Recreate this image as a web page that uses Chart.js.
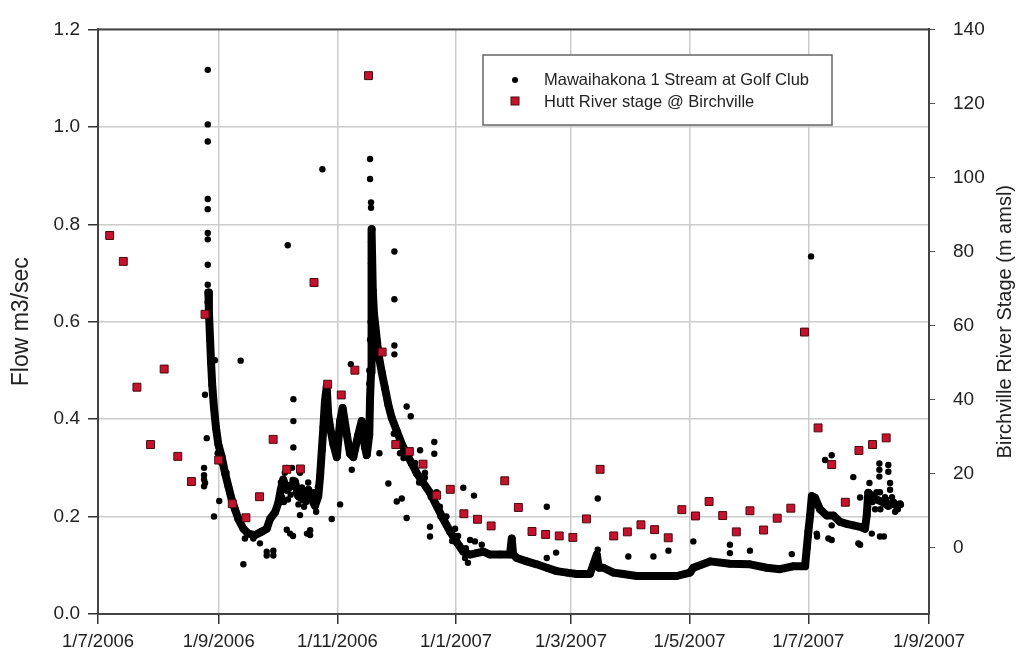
<!DOCTYPE html>
<html>
<head>
<meta charset="utf-8">
<script src="https://cdn.jsdelivr.net/npm/chart.js@4.4.1/dist/chart.umd.min.js"></script>
<style>
  html, body { margin: 0; padding: 0; background: #fff; }
  #wrap { width: 1027px; height: 653px; }
</style>
</head>
<body>
<div id="wrap"><canvas id="chart" width="1027" height="653"></canvas></div>
<script>
// x values are days counted from 1/7/2006
const xTickLabels = ['1/7/2006', '1/9/2006', '1/11/2006', '1/1/2007', '1/3/2007', '1/5/2007', '1/7/2007', '1/9/2007'];
const flowTicks = [0, 0.2, 0.4, 0.6, 0.8, 1.0, 1.2];
const stageTicks = [0, 20, 40, 60, 80, 100, 120, 140];

// main continuous flow record
const flowTraceDays = [
    56.7, 57.0, 57.6, 58.1, 58.7, 59.6, 60.6, 61.8, 63.6, 65.3,
    67.0, 68.7, 70.4, 72.1, 74.7, 77.2, 80.7, 84.1, 86.7, 88.4,
    91.0, 92.7, 93.9, 95.2, 97.0, 98.7, 101.2, 102.9, 105.5, 108.1,
    109.8, 111.5, 113.2, 114.1, 115.0, 115.8, 116.6, 117.5, 118.3, 119.2,
    120.9, 122.7, 124.4, 125.7, 127.8, 129.5, 131.2, 133.8, 135.5, 137.2,
    138.1, 139.4, 139.8, 140.3, 140.4, 140.6, 140.7, 141.2, 141.8, 142.9,
    144.0, 145.8, 147.5, 149.2, 150.9, 153.5, 156.1, 158.6, 161.2, 163.8,
    167.2, 170.6, 174.0, 177.4, 180.9, 184.3, 187.7, 191.2, 194.6, 198.0,
    201.4, 206.6, 211.7, 212.6, 213.3, 215.2, 220.3, 225.4, 230.6, 235.7,
    240.9, 246.0, 252.8, 256.3, 257.4, 259.7, 264.8, 269.9, 276.8, 283.7,
    290.5, 297.4, 304.2, 305.9, 314.5, 324.7, 335.0, 343.6, 350.4, 357.3,
    363.3, 364.2, 365.0, 365.9, 366.8, 368.4, 371.0, 374.5, 377.9, 381.3,
    384.7, 388.1, 391.6, 394.1, 395.0, 395.8, 397.6, 400.2, 403.5, 406.1,
    408.7, 410.4, 412.1
];
const flowTraceValues = [
    0.66, 0.62, 0.563, 0.516, 0.47, 0.423, 0.383, 0.349, 0.322, 0.289,
    0.262, 0.235, 0.215, 0.195, 0.175, 0.165, 0.162, 0.169, 0.175, 0.195,
    0.209, 0.229, 0.255, 0.276, 0.255, 0.262, 0.272, 0.242, 0.235, 0.255,
    0.235, 0.222, 0.242, 0.282, 0.336, 0.383, 0.436, 0.466, 0.409, 0.385,
    0.349, 0.322, 0.396, 0.423, 0.369, 0.329, 0.322, 0.369, 0.396, 0.342,
    0.326, 0.369, 0.443, 0.496, 0.6, 0.72, 0.79, 0.664, 0.617, 0.577,
    0.536, 0.496, 0.463, 0.429, 0.403, 0.376, 0.349, 0.329, 0.309, 0.289,
    0.269, 0.249, 0.222, 0.195, 0.169, 0.148, 0.128, 0.122, 0.125, 0.128,
    0.122, 0.122, 0.122, 0.155, 0.122, 0.115, 0.108, 0.102, 0.095, 0.088,
    0.085, 0.082, 0.082, 0.122, 0.095, 0.095, 0.085, 0.082, 0.078, 0.078,
    0.078, 0.078, 0.085, 0.095, 0.108, 0.103, 0.102, 0.095, 0.092, 0.098,
    0.098, 0.135, 0.169, 0.202, 0.242, 0.239, 0.215, 0.202, 0.202, 0.189,
    0.185, 0.182, 0.179, 0.175, 0.202, 0.249, 0.242, 0.235, 0.229, 0.222,
    0.229, 0.222, 0.225
];

// scattered flow readings off the main record
const flowExtraDays = [
    56.4, 56.4, 56.4, 56.4, 56.4, 56.4, 56.4, 56.4, 56.4, 56.4,
    54.5, 54.5, 54.5, 54.5, 55.0, 55.0, 55.9, 59.6, 62.3, 60.1,
    73.3, 74.7, 75.5, 79.8, 83.2, 86.7, 86.7, 90.1, 90.1, 97.5,
    100.4, 100.4, 100.4, 103.8, 103.8, 97.0, 97.0, 98.7, 100.2, 107.4,
    109.0, 109.0, 99.7, 94.6, 97.6, 101.7, 104.8, 106.9, 111.0, 112.1,
    105.9, 115.3, 120.1, 124.4, 130.4, 129.9, 139.4, 139.4, 139.8, 139.8,
    139.8, 140.3, 140.3, 140.3, 144.6, 149.2, 153.5, 156.1, 158.6, 158.6,
    160.7, 165.5, 172.8, 172.8, 170.6, 170.6, 187.7, 193.2, 152.3, 152.3,
    152.3, 152.3, 155.2, 162.9, 168.0, 175.7, 183.5, 188.6, 186.0, 190.1,
    191.2, 193.7, 197.2, 230.6, 230.6, 235.4, 256.8, 256.8, 272.5, 285.4,
    293.1, 305.9, 324.7, 324.7, 335.0, 356.5, 366.4, 365.0, 369.5, 373.6,
    377.0, 377.0, 377.0, 377.0, 388.1, 391.6, 391.6, 397.6, 401.8, 401.8,
    403.8, 401.5, 401.5, 401.5, 396.4, 407.0, 407.0, 406.1, 406.1, 375.3,
    390.7, 369.3, 399.3, 404.4, 409.6,
    94.0, 95.5, 96.0, 99.0, 100.0, 102.0, 103.0, 105.0, 107.0, 108.0,
    110.0, 112.0, 113.0, 150.0, 152.0, 155.0, 157.0, 160.0, 163.0, 165.0,
    168.0, 171.0, 174.0, 176.0, 179.0, 182.0, 185.0, 189.0, 398.0, 400.0,
    402.0, 405.0, 408.0, 411.0, 61.5, 62.5, 63.5, 64.5, 66.0
];
const flowExtraValues = [
    1.117, 1.005, 0.970, 0.852, 0.831, 0.782, 0.769, 0.717, 0.676, 0.64,
    0.30, 0.285, 0.276, 0.262, 0.269, 0.45, 0.361, 0.2, 0.232, 0.521,
    0.52, 0.102, 0.155, 0.155, 0.145, 0.128, 0.12, 0.13, 0.12, 0.757,
    0.441, 0.396, 0.342, 0.203, 0.29, 0.173, 0.30, 0.165, 0.16, 0.165,
    0.162, 0.172, 0.30, 0.24, 0.235, 0.25, 0.26, 0.245, 0.25, 0.21,
    0.22, 0.913, 0.195, 0.225, 0.296, 0.513, 0.5, 0.473, 0.563, 0.934,
    0.893, 0.845, 0.834, 0.764, 0.33, 0.268, 0.231, 0.237, 0.197, 0.426,
    0.406, 0.336, 0.353, 0.329, 0.179, 0.159, 0.259, 0.243, 0.744, 0.646,
    0.551, 0.533, 0.33, 0.31, 0.28, 0.22, 0.175, 0.115, 0.14, 0.105,
    0.152, 0.149, 0.142, 0.22, 0.115, 0.126, 0.237, 0.132, 0.118, 0.118,
    0.13, 0.149, 0.142, 0.125, 0.13, 0.123, 0.734, 0.159, 0.159, 0.316,
    0.326, 0.309, 0.182, 0.152, 0.281, 0.239, 0.142, 0.165, 0.159, 0.25,
    0.159, 0.309, 0.296, 0.282, 0.269, 0.269, 0.255, 0.306, 0.292, 0.155,
    0.145, 0.165, 0.215, 0.24, 0.21,
    0.27, 0.23, 0.29, 0.245, 0.275, 0.26, 0.225, 0.25, 0.23, 0.27,
    0.245, 0.23, 0.26, 0.42, 0.37, 0.36, 0.32, 0.33, 0.30, 0.27,
    0.29, 0.24, 0.25, 0.20, 0.20, 0.15, 0.16, 0.135, 0.23, 0.25,
    0.215, 0.235, 0.24, 0.215, 0.33, 0.335, 0.31, 0.30, 0.29
];

// weekly river stage readings
const stageDays = [
    6, 13, 20, 27, 34, 41, 48, 55, 62, 69, 76, 83, 90, 97, 104, 111, 118, 125, 132, 139,
    146, 153, 160, 167, 174, 181, 188, 195, 202, 209, 216, 223, 230, 237, 244, 251, 258, 265, 272, 279,
    286, 293, 300, 307, 314, 321, 328, 335, 342, 349, 356, 363, 370, 377, 384, 391, 398, 405
];
const stageValues = [
    84.3, 77.3, 43.3, 27.8, 48.2, 24.6, 17.8, 63.0, 23.6, 11.8, 8.0, 13.7, 29.2, 21.1, 21.2, 71.6, 44.1, 41.2, 47.9, 127.5,
    52.8, 27.8, 25.9, 22.5, 14.1, 15.7, 9.1, 7.6, 5.8, 18.0, 10.8, 4.3, 3.5, 3.1, 2.7, 7.7, 21.1, 3.1, 4.2, 6.1,
    4.8, 2.6, 10.2, 8.5, 12.4, 8.6, 4.2, 9.9, 4.7, 7.9, 10.6, 58.2, 32.3, 22.4, 12.2, 26.2, 27.8, 29.6
];

const seriesNames = ['Mawaihakona 1 Stream at Golf Club', 'Hutt River stage @ Birchville'];

const dayOf = (label) => {
    const [d, m, y] = label.split('/').map(Number);
    return (Date.UTC(y, m - 1, d) - Date.UTC(2006, 6, 1)) / 86400000;
};
const xTickDays = xTickLabels.map(dayOf);

const toPoints = (xs, ys) => xs.map((x, i) => ({ x: x, y: ys[i] }));

const FONT = "'Liberation Sans', Arial, sans-serif";
const RED = '#c4122f';

const extras = {
    id: 'extras',
    beforeDatasetsDraw(chart) {
        const { ctx, chartArea: a } = chart;
        ctx.save();
        ctx.strokeStyle = '#444';
        ctx.lineWidth = 2;
        ctx.strokeRect(a.left, a.top, a.right - a.left, a.bottom - a.top);
        ctx.restore();
    },
    afterDraw(chart) {
        const ctx = chart.ctx;
        const a = chart.chartArea;
        const midY = (a.top + a.bottom) / 2;
        ctx.save();

        // axis titles
        ctx.fillStyle = '#222';
        ctx.textAlign = 'center';
        ctx.textBaseline = 'middle';
        ctx.font = '23px ' + FONT;
        ctx.translate(22, midY);
        ctx.rotate(-Math.PI / 2);
        ctx.fillText('Flow m3/sec', 0, 0);
        ctx.setTransform(1, 0, 0, 1, 0, 0);
        ctx.font = '20px ' + FONT;
        ctx.translate(1005, midY);
        ctx.rotate(-Math.PI / 2);
        ctx.fillText('Birchville River Stage (m amsl)', 0, 0);
        ctx.setTransform(1, 0, 0, 1, 0, 0);

        // legend box
        ctx.fillStyle = '#fff';
        ctx.fillRect(483, 55, 349, 70);
        ctx.strokeStyle = '#666';
        ctx.lineWidth = 1.5;
        ctx.strokeRect(483, 55, 349, 70);

        ctx.fillStyle = '#000';
        ctx.beginPath();
        ctx.arc(515, 80, 3, 0, Math.PI * 2);
        ctx.fill();

        ctx.fillStyle = RED;
        ctx.fillRect(511, 97, 8, 8);
        ctx.strokeStyle = '#4a0a0a';
        ctx.lineWidth = 1;
        ctx.strokeRect(511, 97, 8, 8);

        ctx.fillStyle = '#222';
        ctx.textAlign = 'left';
        ctx.textBaseline = 'middle';
        ctx.font = '16.5px ' + FONT;
        ctx.fillText(seriesNames[0], 544, 80);
        ctx.fillText(seriesNames[1], 544, 102);
        ctx.restore();
    }
};

const ctx = document.getElementById('chart').getContext('2d');
new Chart(ctx, {
    type: 'scatter',
    data: {
        datasets: [
            {
                label: seriesNames[1],
                data: toPoints(stageDays, stageValues),
                yAxisID: 'y2',
                pointStyle: 'rect',
                pointRadius: 5.6,
                backgroundColor: RED,
                borderColor: '#4a0a0a',
                borderWidth: 1,
                order: 0,
            },
            {
                label: seriesNames[0],
                data: toPoints(flowExtraDays, flowExtraValues),
                yAxisID: 'y',
                pointRadius: 3.2,
                backgroundColor: '#000',
                borderWidth: 0,
                order: 1,
            },
            {
                label: seriesNames[0],
                data: toPoints(flowTraceDays, flowTraceValues),
                yAxisID: 'y',
                showLine: true,
                borderColor: '#000',
                borderWidth: 8,
                borderJoinStyle: 'round',
                borderCapStyle: 'round',
                pointRadius: 3.8,
                backgroundColor: '#000',
                pointBorderWidth: 0,
                order: 2,
            },
        ],
    },
    options: {
        responsive: false,
        animation: false,
        devicePixelRatio: 1,
        layout: { padding: { top: 16, left: 0, right: 0, bottom: 0 } },
        plugins: {
            legend: { display: false },
            tooltip: { enabled: false },
        },
        scales: {
            x: {
                type: 'linear',
                min: xTickDays[0],
                max: xTickDays[xTickDays.length - 1],
                afterBuildTicks: (scale) => {
                    scale.ticks = xTickDays.map((v) => ({ value: v }));
                },
                afterFit: (scale) => { scale.height = 39; },
                ticks: {
                    autoSkip: false,
                    maxRotation: 0,
                    padding: 7,
                    color: '#222',
                    font: { family: FONT, size: 18.5 },
                    callback: (v) => xTickLabels[xTickDays.indexOf(v)],
                },
                grid: { color: '#cccccc', lineWidth: 1.5, tickLength: 10, tickColor: '#333' },
                border: { color: '#333', width: 2 },
            },
            y: {
                position: 'left',
                min: 0,
                max: 1.2,
                afterBuildTicks: (scale) => {
                    scale.ticks = flowTicks.map((v) => ({ value: v }));
                },
                afterFit: (scale) => { scale.width = 98; },
                ticks: {
                    padding: 8,
                    color: '#222',
                    font: { family: FONT, size: 19 },
                    callback: (v) => v.toFixed(1),
                },
                grid: { color: '#cccccc', lineWidth: 1.5, tickLength: 10, tickColor: '#333' },
                border: { color: '#333', width: 2 },
            },
            y2: {
                position: 'right',
                min: -18,
                max: 140,
                afterBuildTicks: (scale) => {
                    scale.ticks = stageTicks.map((v) => ({ value: v }));
                },
                afterFit: (scale) => { scale.width = 98; },
                ticks: {
                    padding: 18,
                    color: '#222',
                    font: { family: FONT, size: 19 },
                },
                grid: { drawOnChartArea: false, tickLength: 6, tickColor: '#555' },
                border: { color: '#333', width: 2 },
            },
        },
    },
    plugins: [extras],
});
</script>
</body>
</html>
